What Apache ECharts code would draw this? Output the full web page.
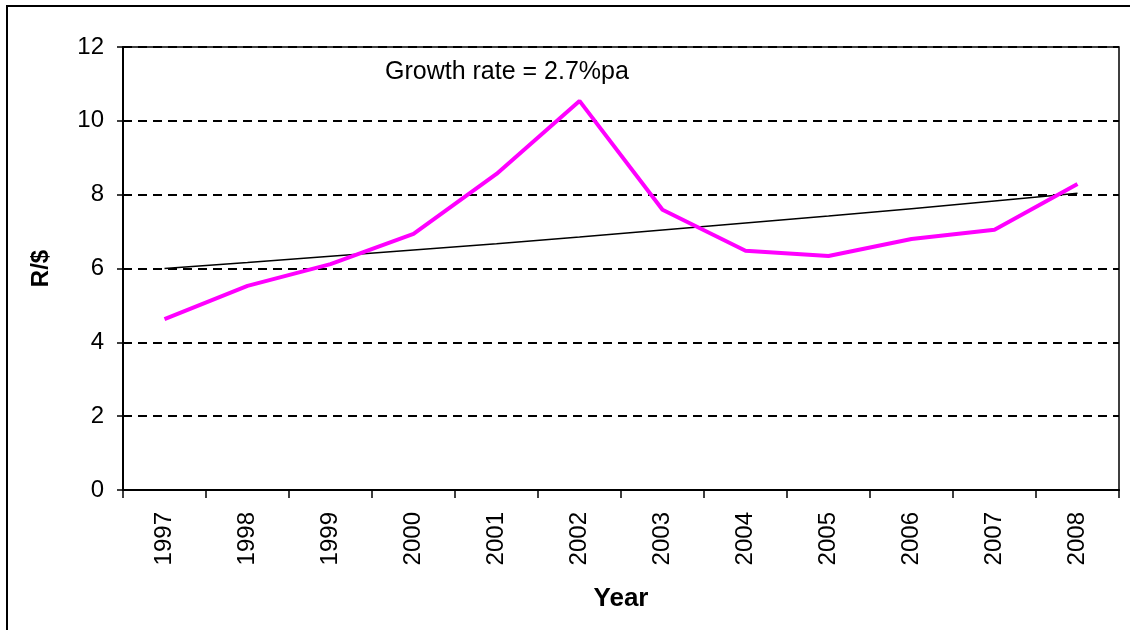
<!DOCTYPE html>
<html>
<head>
<meta charset="utf-8">
<script src="https://cdn.jsdelivr.net/npm/echarts@6/dist/echarts.min.js"></script>
<style>
  html, body { margin: 0; padding: 0; background: #fff; }
  #chart { width: 1130px; height: 630px; }
</style>
</head>
<body>
<div id="chart"></div>
<script>
// years on the x axis
const years = ['1997', '1998', '1999', '2000', '2001', '2002', '2003', '2004', '2005', '2006', '2007', '2008'];
// R/$ exchange rate (pink line)
const rate = [4.63, 5.53, 6.12, 6.94, 8.56, 10.54, 7.59, 6.48, 6.34, 6.80, 7.05, 8.29];
// trend line, 2.7% pa
const trend = [6.00, 6.16, 6.33, 6.50, 6.67, 6.85, 7.04, 7.23, 7.42, 7.62, 7.83, 8.04];
const note = 'Growth rate = 2.7%pa';

const myChart = echarts.init(document.getElementById('chart'));
const font = 'Liberation Sans, Arial, sans-serif';

const option = {
  animation: false,
  grid: {
    left: 123, right: 11, top: 47, bottom: 140,
    show: true, borderColor: '#000', borderWidth: 1.5
  },
  graphic: [
    {
      type: 'rect',
      shape: {x: 7, y: 6, width: 1140, height: 640},
      style: {fill: 'none', stroke: '#000', lineWidth: 2},
      silent: true
    },
    {
      type: 'text',
      left: 385, top: 60,
      style: {text: note, fontSize: 25, fontFamily: font, fill: '#000'}
    }
  ],
  xAxis: {
    type: 'category',
    data: years,
    boundaryGap: true,
    name: 'Year',
    nameLocation: 'middle',
    nameGap: 96,
    nameTextStyle: {fontSize: 26, fontWeight: 'bold', fontFamily: font, color: '#000'},
    axisLine: {lineStyle: {color: '#000', width: 2}},
    axisTick: {show: true, length: 8, lineStyle: {color: '#000', width: 1.5}},
    axisLabel: {rotate: 90, margin: 22, fontSize: 24, fontFamily: font, color: '#000'},
    splitLine: {show: false}
  },
  yAxis: {
    type: 'value',
    min: 0, max: 12, interval: 2,
    name: 'R/$',
    nameLocation: 'middle',
    nameGap: 70,
    nameTextStyle: {fontSize: 24, fontWeight: 'bold', fontFamily: font, color: '#000'},
    axisLine: {show: true, lineStyle: {color: '#000', width: 2}},
    axisTick: {show: true, length: 6, lineStyle: {color: '#000', width: 1.5}},
    axisLabel: {margin: 19, fontSize: 24, fontFamily: font, color: '#000'},
    splitLine: {show: true, lineStyle: {color: '#000', width: 1.8, type: [9, 6]}}
  },
  series: [
    {
      name: 'trend',
      type: 'line',
      data: trend,
      symbol: 'none',
      lineStyle: {color: '#000', width: 1.5},
      z: 2
    },
    {
      name: 'R/$',
      type: 'line',
      data: rate,
      symbol: 'none',
      lineStyle: {color: '#ff00ff', width: 4},
      z: 3
    }
  ]
};
myChart.setOption(option);
</script>
</body>
</html>
